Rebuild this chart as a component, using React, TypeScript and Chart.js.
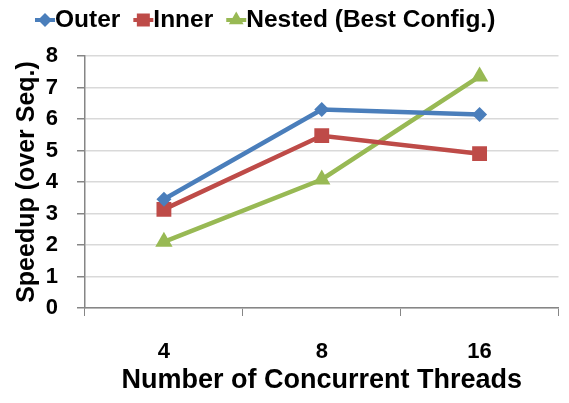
import React, { useEffect, useRef } from "react";
import { Chart, registerables } from "chart.js";

Chart.register(...registerables);

const categories = ["4", "8", "16"];
const outerValues = [3.45, 6.3, 6.14];
const innerValues = [3.13, 5.47, 4.9];
const nestedValues = [2.1, 4.08, 7.35];
const seriesNames = ["Outer", "Inner", "Nested (Best Config.)"];
const seriesColors = ["#4a7ebb", "#be4b48", "#98b954"];
const seriesMarkers = ["rectRot", "rect", "triangle"];
const markerRadii = [7.5, 10.5, 10];
const yTitle = "Speedup (over Seq.)";
const xTitle = "Number of Concurrent Threads";
const yMin = 0;
const yMax = 8;
const yStep = 1;

const FONT = "'Liberation Sans', Arial, sans-serif";

function drawMarker(ctx: CanvasRenderingContext2D, kind: string, x: number, y: number, color: string) {
  ctx.fillStyle = color;
  ctx.beginPath();
  if (kind === "rectRot") {
    const r = 7;
    ctx.moveTo(x, y - r);
    ctx.lineTo(x + r, y);
    ctx.lineTo(x, y + r);
    ctx.lineTo(x - r, y);
  } else if (kind === "rect") {
    const r = 6.5;
    ctx.rect(x - r, y - r, 2 * r, 2 * r);
  } else {
    const r = 8.5;
    ctx.moveTo(x, y - r);
    ctx.lineTo(x + r * 0.866, y + r * 0.5);
    ctx.lineTo(x - r * 0.866, y + r * 0.5);
  }
  ctx.closePath();
  ctx.fill();
}

const legendPlugin = {
  id: "customLegend",
  afterDraw(chart: any) {
    const ctx: CanvasRenderingContext2D = chart.ctx;
    ctx.save();
    ctx.font = `bold 24.5px ${FONT}`;
    ctx.textBaseline = "middle";
    ctx.textAlign = "left";
    let x = 35;
    const y = 20;
    seriesNames.forEach((name, i) => {
      const color = seriesColors[i];
      ctx.strokeStyle = color;
      ctx.lineWidth = 4;
      ctx.beginPath();
      ctx.moveTo(x, y);
      ctx.lineTo(x + 20, y);
      ctx.stroke();
      drawMarker(ctx, seriesMarkers[i], x + 10, y, color);
      x += 20;
      ctx.fillStyle = "#000";
      ctx.fillText(name, x, y);
      x += ctx.measureText(name).width + 13;
    });
    ctx.restore();
  },
};

export default function App() {
  const ref = useRef<HTMLCanvasElement | null>(null);
  useEffect(() => {
    document.body.style.margin = "0";
    if (!ref.current) return;
    const values = [outerValues, innerValues, nestedValues];
    const chart = new Chart(ref.current, {
      type: "line",
      data: {
        labels: categories,
        datasets: seriesNames.map((name, i) => ({
          label: name,
          data: values[i],
          borderColor: seriesColors[i],
          backgroundColor: seriesColors[i],
          borderWidth: 4.5,
          pointStyle: seriesMarkers[i] as any,
          pointRadius: markerRadii[i],
          pointHoverRadius: markerRadii[i],
          pointBorderWidth: 0,
          tension: 0,
        })),
      },
      options: {
        animation: false,
        responsive: false,
        maintainAspectRatio: false,
        layout: { padding: { top: 56, left: 12, right: 0, bottom: 6 } },
        plugins: {
          legend: { display: false },
          tooltip: { enabled: false },
        },
        scales: {
          x: {
            offset: true,
            afterFit: (scale: any) => {
              scale.height = 89;
              scale.paddingRight = 0;
              scale.paddingLeft = 0;
            },
            grid: {
              offset: true,
              drawOnChartArea: false,
              drawTicks: true,
              tickLength: 8,
              tickColor: "#868686",
              color: "#868686",
            },
            border: { color: "#868686", width: 1.5 },
            ticks: {
              color: "#000",
              padding: 23,
              font: { family: FONT, size: 22, weight: "bold" },
            },
            title: {
              display: true,
              text: xTitle,
              color: "#000",
              padding: { top: 4, bottom: 0 },
              font: { family: FONT, size: 27, weight: "bold" },
            },
          },
          y: {
            min: yMin,
            max: yMax,
            afterFit: (scale: any) => {
              scale.width = 73;
            },
            grid: {
              color: "#d9d9d9",
              lineWidth: 1.5,
              tickLength: 8,
              tickColor: "#868686",
            },
            border: { color: "#868686", width: 1.5 },
            ticks: {
              stepSize: yStep,
              color: "#000",
              padding: 19,
              font: { family: FONT, size: 22, weight: "bold" },
            },
            title: {
              display: true,
              text: yTitle,
              color: "#000",
              padding: { top: 0, bottom: 4 },
              font: { family: FONT, size: 25, weight: "bold" },
            },
          },
        },
      },
      plugins: [legendPlugin],
    });
    return () => chart.destroy();
  }, []);
  return (
    <div style={{ width: 569, height: 403 }}>
      <canvas ref={ref} width={569} height={403} style={{ width: 569, height: 403 }} />
    </div>
  );
}
